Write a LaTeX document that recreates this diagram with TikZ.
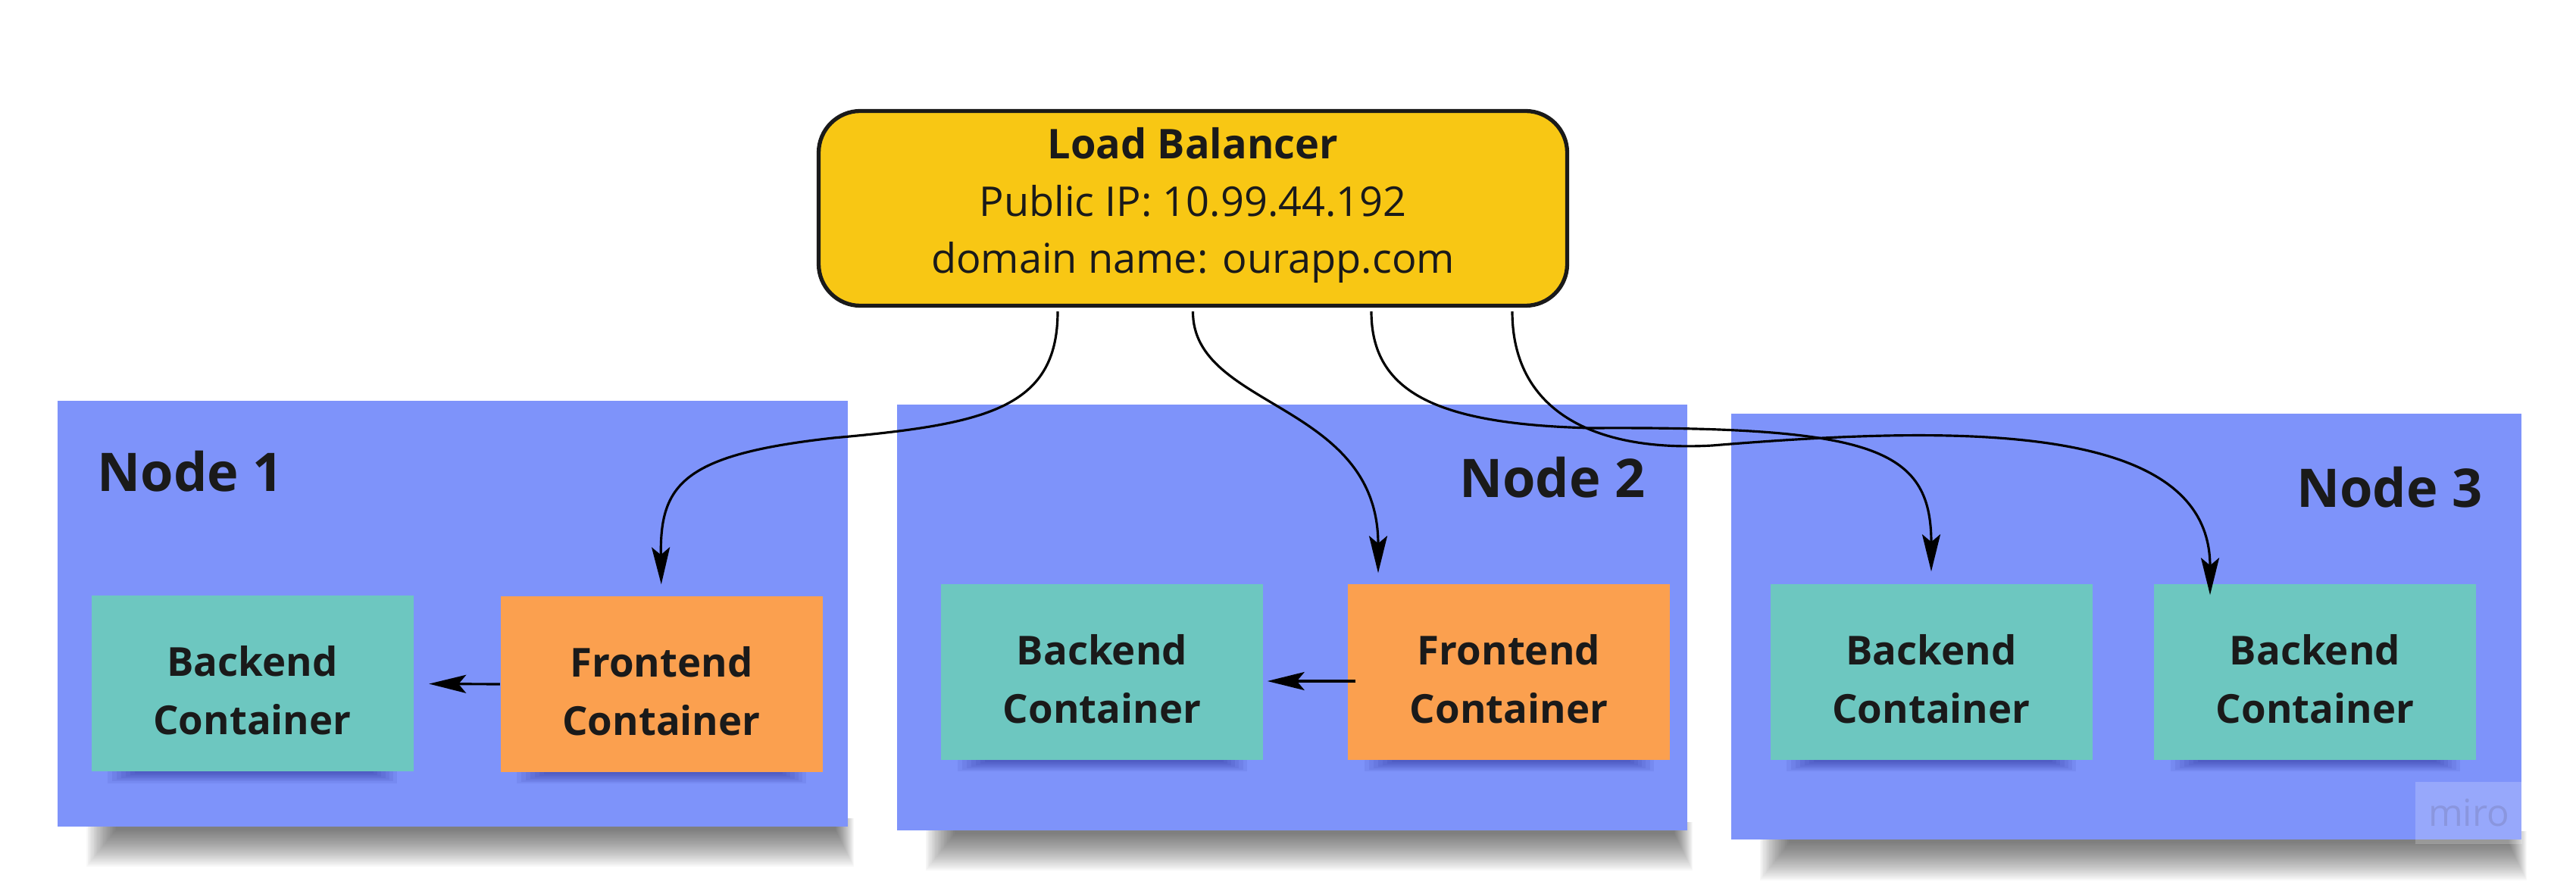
\documentclass[tikz,border=0pt]{standalone}
\usepackage{fontspec}
\setmainfont{Open Sans}
\usetikzlibrary{arrows.meta}
\definecolor{ink}{HTML}{1A1A1A}
\definecolor{lbfill}{HTML}{F8C714}
\definecolor{sticky}{HTML}{7E93FA}
\definecolor{tl}{HTML}{6DC7C0}
\definecolor{og}{HTML}{FBA04F}
\definecolor{wmtext}{HTML}{8A96DE}
\begin{document}
\begin{tikzpicture}[>={Stealth[length=4.9mm,width=2.4mm,inset=1mm]},every node/.style={text=ink},
stickynote/.style={fill=sticky,minimum width=10.43cm,minimum height=5.62cm,inner sep=0},
cbox/.style={minimum width=4.25cm,minimum height=2.32cm,inner sep=0,align=center,font=\fontsize{15}{22}\selectfont\bfseries},
nodetitle/.style={inner sep=0,font=\fontsize{20}{24}\selectfont\bfseries},
wm/.style={fill=white,fill opacity=.2,text opacity=1,text=wmtext,minimum width=1.41cm,minimum height=.82cm,inner sep=0,font=\fontsize{14}{16}\selectfont},
lbline/.style={->,line width=.9pt}]
\useasboundingbox (0,0) rectangle (34,-11.76);
\node[draw=ink,line width=1.5pt,fill=lbfill,rounded corners=.55cm,minimum width=9.88cm,minimum height=2.57cm,align=center,font=\fontsize{15.4}{21.6}\selectfont] (lb) at (15.745,-2.75) {\textbf{Load Balancer}\\Public IP: 10.99.44.192\\domain name: ourapp.com\rule[-2.1mm]{0pt}{1mm}};
\foreach \i/\x/\y in {1/5.975/-8.10,2/17.05/-8.15,3/28.06/-8.275}{
\foreach \r in {0,.02,...,.5}
\fill[black,opacity=.028] (\x-4.45-\r*.8,\y-2.7) rectangle (\x+5.05+\r*.5,\y-2.86-\r);
\node[stickynote] (n\i) at (\x,\y) {};}
\node[nodetitle,anchor=base west] (t1) at (1.28,-6.49) {Node 1};
\node[nodetitle,anchor=base east] (t2) at (21.72,-6.57) {Node 2};
\node[nodetitle,anchor=base east] (t3) at (32.77,-6.70) {Node 3};
\foreach \n/\x/\y/\c/\t in {bk1/3.33/-9.025/tl/Backend,fe1/8.73/-9.03/og/Frontend,bk2/14.545/-8.87/tl/Backend,fe2/19.915/-8.87/og/Frontend,bk3a/25.49/-8.87/tl/Backend,bk3b/30.555/-8.87/tl/Backend}{
\foreach \r in {0,.02,...,.14}
\fill[black!60!blue,opacity=.06] (\x-1.55-\r*3,\y-1.1) rectangle (\x+1.6+\r*2.6,\y-1.19-\r);
\node[cbox,fill=\c] (\n) at (\x,\y) {\rule{0pt}{5.8mm}\t\\Container};}
\node[wm] (wm) at (32.585,-10.73) {miro};
\draw[lbline,shorten >=.2cm] (fe1.west) -- (bk1.east);
\draw[lbline,shorten <=-.11cm,shorten >=.05cm] ([yshift=-1.2mm]fe2.west) -- ([yshift=-1.2mm]bk2.east);
\draw[lbline,shorten >=1.5mm] ([xshift=-17.85mm,yshift=-.5mm]lb.south) .. controls (13.96,-5.40) and (13.00,-5.60) .. (11.00,-5.78) .. controls (9.00,-6.00) and (8.71,-6.40) .. (fe1.north);
\draw[lbline,shorten >=1.4mm] ([yshift=-.5mm]lb.south) .. controls (15.74,-5.40) and (18.19,-5.30) .. ([xshift=-17.25mm]fe2.north);
\draw[lbline,shorten >=1.6mm] ([xshift=23.55mm,yshift=-.5mm]lb.south) .. controls (18.10,-5.20) and (19.00,-5.60) .. (21.00,-5.65) .. controls (24.70,-5.63) and (25.49,-5.90) .. (bk3a.north);
\draw[lbline,shorten >=-1.5mm] ([xshift=42.15mm,yshift=-.5mm]lb.south) .. controls (19.96,-5.40) and (21.00,-5.97) .. (22.60,-5.88) .. controls (26.00,-5.60) and (29.17,-5.60) .. ([xshift=-13.85mm]bk3b.north);
\end{tikzpicture}
\end{document}
